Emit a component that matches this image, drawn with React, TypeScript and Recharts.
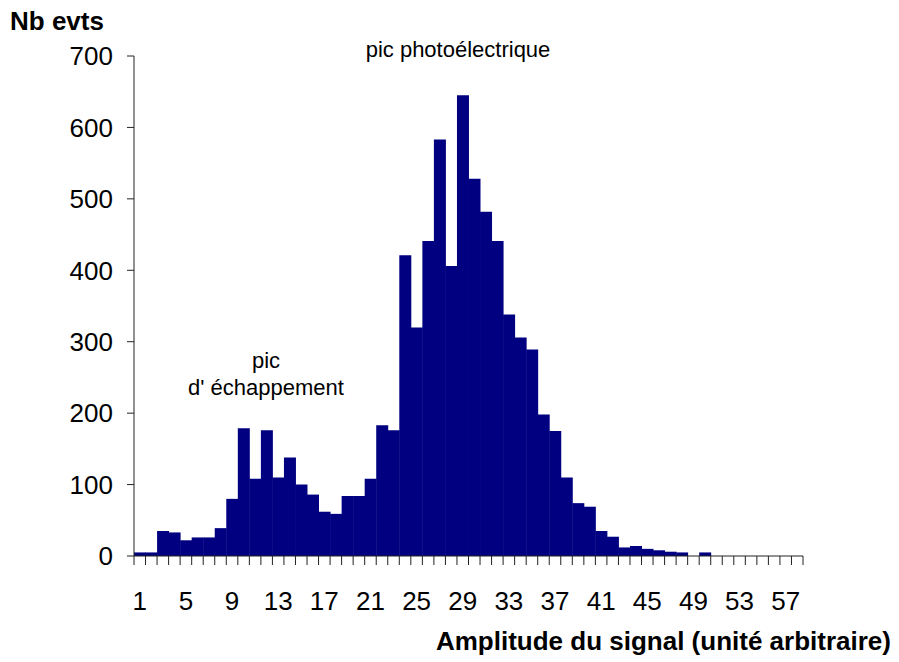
import React from 'react';
import { BarChart, Bar, XAxis, YAxis } from 'recharts';

const categories = [
  '1', '2', '3', '4', '5', '6', '7', '8', '9', '10',
  '11', '12', '13', '14', '15', '16', '17', '18', '19', '20',
  '21', '22', '23', '24', '25', '26', '27', '28', '29', '30',
  '31', '32', '33', '34', '35', '36', '37', '38', '39', '40',
  '41', '42', '43', '44', '45', '46', '47', '48', '49', '50',
  '51', '52', '53', '54', '55', '56', '57', '58',
];

const counts = [
  5, 5, 35, 33, 22, 26, 26, 39, 80, 179,
  108, 176, 110, 138, 100, 86, 62, 59, 84, 84,
  108, 183, 176, 421, 320, 441, 583, 406, 645, 528,
  482, 441, 338, 306, 289, 198, 175, 110, 74, 69,
  35, 27, 12, 14, 10, 8, 6, 5, 0, 5,
  0, 0, 0, 0, 0, 0, 0, 0,
];

const yTicks = [0, 100, 200, 300, 400, 500, 600, 700];

const data = categories.map((c, i) => ({ amp: c, n: counts[i] }));

const FONT = '"Liberation Sans", Arial, sans-serif';
const NAVY = '#000080';

// ticks sit on the category boundaries, labels every 4th category
function XTick(props: any) {
  const { x, y, payload, index } = props;
  const half = payload?.offset ?? 669 / 58 / 2;
  const last = index === categories.length - 1;
  return (
    <g>
      <line x1={x - half} x2={x - half} y1={y} y2={y + 9} stroke="#222" />
      {last && <line x1={x + half} x2={x + half} y1={y} y2={y + 9} stroke="#222" />}
      {index % 4 === 0 && (
        <text x={x} y={y + 54} textAnchor="middle" fontSize={26} fontFamily={FONT} fill="#000">
          {payload.value}
        </text>
      )}
    </g>
  );
}

export default function App() {
  return (
    <div style={{ position: 'absolute', left: 0, top: 0, width: 899, height: 662, background: '#fff' }}>
      <BarChart
        width={899}
        height={662}
        data={data}
        margin={{ top: 56, right: 96, bottom: 46, left: 74 }}
        barCategoryGap={0}
        barGap={0}
      >
        <XAxis
          dataKey="amp"
          interval={0}
          tickLine={false}
          tickSize={0}
          tickMargin={0}
          height={60}
          stroke="#222"
          tick={<XTick />}
        />
        <YAxis
          domain={[0, 700]}
          ticks={yTicks}
          width={60}
          stroke="#222"
          tickSize={7}
          tickMargin={14}
          tick={{ fontSize: 26, fontFamily: FONT, fill: '#000' }}
        />
        <Bar dataKey="n" fill={NAVY} isAnimationActive={false} />
      </BarChart>
      <svg
        width={899}
        height={662}
        style={{ position: 'absolute', left: 0, top: 0, pointerEvents: 'none' }}
        fontFamily={FONT}
      >
        <text x={10} y={30} fontSize={26} fontWeight="bold" fill="#000">Nb evts</text>
        <text x={891} y={650} fontSize={26} fontWeight="bold" fill="#000" textAnchor="end">
          Amplitude du signal (unité arbitraire)
        </text>
        <text x={458} y={57} fontSize={22} fill="#000" textAnchor="middle">pic photoélectrique</text>
        <text x={266} y={368} fontSize={22} fill="#000" textAnchor="middle">pic</text>
        <text x={266} y={395} fontSize={22} fill="#000" textAnchor="middle">d' échappement</text>
      </svg>
    </div>
  );
}
